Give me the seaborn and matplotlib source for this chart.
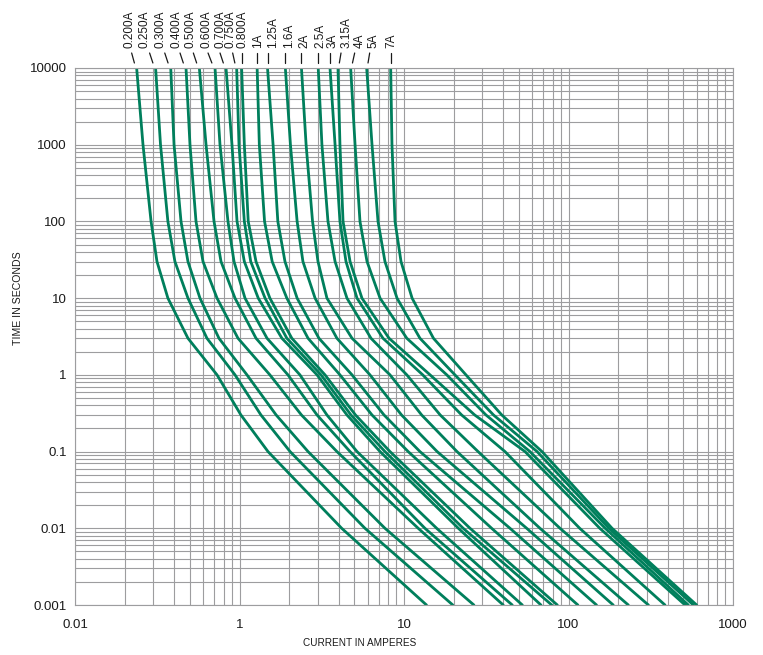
import numpy as np
import pandas as pd
import matplotlib
matplotlib.use("Agg")
import matplotlib.pyplot as plt
import seaborn as sns
from matplotlib import ticker
from matplotlib.lines import Line2D
from matplotlib.transforms import IdentityTransform

times = [10000, 1000, 100, 30, 10, 3, 1, 0.3, 0.1, 0.01, 0.001]

# current (A) for each fuse rating at the times above
i_0200 = [0.237, 0.259, 0.290, 0.315, 0.367, 0.486, 0.730, 1.02, 1.49, 4.18, 13.7]
i_0250 = [0.309, 0.331, 0.367, 0.405, 0.486, 0.634, 0.939, 1.35, 2.03, 5.79, 19.8]
i_0300 = [0.382, 0.400, 0.441, 0.486, 0.575, 0.750, 1.11, 1.67, 2.61, 7.66, 26.6]
i_0400 = [0.473, 0.500, 0.544, 0.600, 0.730, 0.979, 1.53, 2.38, 3.91, 12.2, 40.1]
i_0500 = [0.570, 0.626, 0.700, 0.772, 0.939, 1.26, 1.97, 2.96, 4.70, 13.4, 45.5]
i_0600 = [0.710, 0.761, 0.851, 0.926, 1.08, 1.47, 2.33, 3.40, 5.18, 15.8, 52.4]
i_0700 = [0.828, 0.900, 0.966, 1.07, 1.30, 1.81, 2.96, 4.50, 7.15, 21.4, 68.0]
i_0750 = [0.961, 0.993, 1.07, 1.17, 1.43, 1.94, 3.13, 4.76, 7.66, 22.9, 79.1]
i_0800 = [1.03, 1.07, 1.13, 1.26, 1.53, 2.08, 3.31, 5.07, 8.22, 25.2, 85.5]
i_1000 = [1.28, 1.32, 1.42, 1.58, 1.94, 2.61, 4.08, 6.39, 10.6, 34.1, 114]
i_1250 = [1.48, 1.60, 1.71, 1.89, 2.24, 3.04, 4.83, 7.56, 12.5, 44.1, 148]
i_1600 = [1.90, 2.04, 2.24, 2.43, 2.88, 3.91, 6.21, 9.66, 15.9, 55.7, 187]
i_2000 = [2.38, 2.54, 2.78, 3.00, 3.40, 4.83, 8.22, 12.8, 21.0, 67.1, 231]
i_2500 = [3.01, 3.17, 3.45, 3.81, 4.50, 6.30, 10.4, 16.6, 28.2, 88.8, 306]
i_3000 = [3.55, 3.81, 4.08, 4.44, 5.18, 7.45, 13.0, 22.4, 41.1, 117, 386]
i_3150 = [3.97, 4.08, 4.26, 4.70, 5.55, 8.11, 14.4, 26.9, 54.4, 155, 511]
i_4000 = [4.74, 5.04, 5.40, 5.96, 7.15, 10.4, 18.2, 31.5, 58.3, 167, 535]
i_5000 = [5.93, 6.39, 6.95, 7.66, 9.07, 12.5, 20.4, 35.0, 64.4, 176, 574]
i_7000 = [8.30, 8.45, 8.82, 9.59, 11.2, 15.1, 23.8, 39.3, 69.0, 184, 601]

ratings = ["0.200A", "0.250A", "0.300A", "0.400A", "0.500A", "0.600A", "0.700A",
           "0.750A", "0.800A", "1A", "1.25A", "1.6A", "2A", "2.5A", "3A", "3.15A",
           "4A", "5A", "7A"]
currents = [i_0200, i_0250, i_0300, i_0400, i_0500, i_0600, i_0700, i_0750, i_0800,
            i_1000, i_1250, i_1600, i_2000, i_2500, i_3000, i_3150, i_4000, i_5000, i_7000]

x_ticks = [0.1, 1, 10, 100, 1000]
x_tick_labels = ["0.01", "1", "10", "100", "1000"]
y_ticks = [0.001, 0.01, 0.1, 1, 10, 100, 1000, 10000]
y_tick_labels = ["0.001", "0.01", "0.1", "1", "10", "100", "1000", "10000"]

# pixel shifts relative to the top of each curve: leader top, label centre
leader_shift = [-5, -6, -6, -6, -6, -7, -6, -4, 0, 0, 0, 0, 0, 0, 0, 3, 4, 3, 0]
label_shift = [-7, -11, -10, -10, -9, -9, -6, -6, 1, 1, 6, 4, 3, 2, 3, 9, 9, 7, 1]

rows = []
for name, cur in zip(ratings, currents):
    for t, c in zip(times, cur):
        rows.append({"rating": name, "current": c, "time": t})
df = pd.DataFrame(rows)

sns.set_style("white")
plt.rcParams["font.family"] = ["Liberation Sans", "DejaVu Sans"]

W, H = 763, 655
fig = plt.figure(figsize=(W / 100, H / 100), dpi=100)
ax = fig.add_axes([75 / W, 1 - 605 / H, 658 / W, 537 / H])

green = "#007f5c"
grid_col = "#9d9d9f"
text_col = "#1a1a1a"

sns.lineplot(data=df, x="current", y="time", units="rating", estimator=None,
             sort=False, color=green, linewidth=2.0, ax=ax, legend=False)

ax.set_xscale("log")
ax.set_yscale("log")
ax.set_xlim(0.1, 1000)
ax.set_ylim(0.001, 10000)

ax.xaxis.set_major_locator(ticker.FixedLocator(x_ticks))
ax.xaxis.set_major_formatter(ticker.FixedFormatter(x_tick_labels))
ax.yaxis.set_major_locator(ticker.FixedLocator(y_ticks))
ax.yaxis.set_major_formatter(ticker.FixedFormatter(y_tick_labels))
ax.xaxis.set_minor_locator(ticker.LogLocator(base=10, subs=np.arange(2, 10), numticks=20))
ax.yaxis.set_minor_locator(ticker.LogLocator(base=10, subs=np.arange(2, 10), numticks=20))
ax.xaxis.set_minor_formatter(ticker.NullFormatter())
ax.yaxis.set_minor_formatter(ticker.NullFormatter())

ax.grid(which="both", color=grid_col, linewidth=0.8)
ax.set_axisbelow(True)
ax.tick_params(which="both", length=0, labelsize=9.5, colors=text_col)
ax.tick_params(axis="x", pad=10)
ax.tick_params(axis="y", pad=6)
for s in ax.spines.values():
    s.set_color(grid_col)
    s.set_linewidth(0.8)

ax.set_xlabel("CURRENT IN AMPERES", fontsize=7.2, color=text_col)
ax.set_ylabel("TIME IN SECONDS", fontsize=7.6, color=text_col)
ax.xaxis.set_label_coords((360 - 75) / 658, -(638 - 605) / 537)
ax.yaxis.set_label_coords(-(75 - 23) / 658, (605 - 298) / 537)

# rating labels and leader lines above the plot
fig.canvas.draw()
for name, cur, ls, ts in zip(ratings, currents, leader_shift, label_shift):
    px, py = ax.transData.transform((cur[0], times[0]))
    top = (px + ls, H - 53)
    bot = (px + ls * 0.45, H - 63)
    fig.add_artist(Line2D([top[0], bot[0]], [top[1], bot[1]], transform=IdentityTransform(),
                          color=text_col, linewidth=0.9))
    fig.text((px + ts) / W, (H - 48) / H, name, rotation=90, ha="center", va="bottom",
             fontsize=8.5, color=text_col)

fig.savefig("out.png", dpi=100)
